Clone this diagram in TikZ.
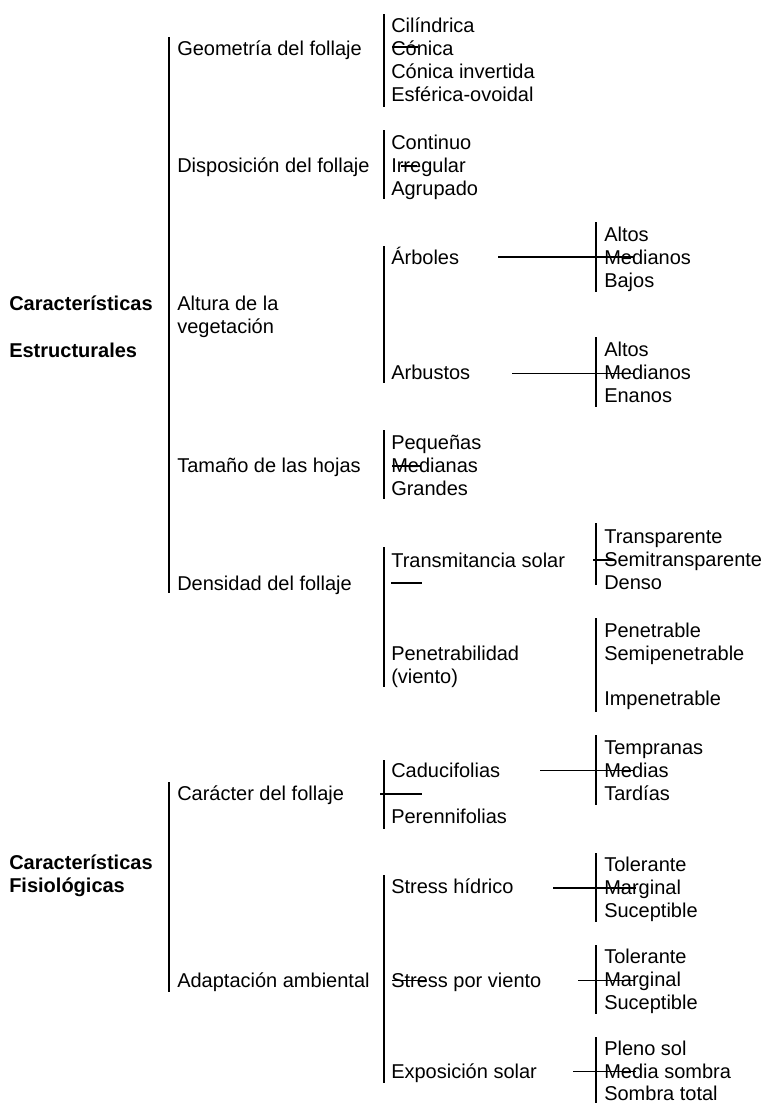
\documentclass[tikz,border=0pt]{standalone}
\usepackage{fontspec}
\setmainfont{Liberation Sans}
\tikzset{
  txt/.style={anchor=base west, inner sep=0pt, font=\fontsize{15}{18}\selectfont},
  hdr/.style={txt, font=\fontsize{15}{18}\selectfont\bfseries},
  brace/.style={line width=1.6pt},
  tick/.style={line width=1.25pt}
}
\begin{document}
\begin{tikzpicture}[x=0.75pt,y=0.75pt,yscale=-1,xscale=1]
\path[use as bounding box] (0,0) rectangle (764,1103);

%Straight Lines: main bars
\draw [brace] (169,37) -- (169,593) ;
\draw [brace] (169,782) -- (169,992) ;
%Straight Lines: second level bars
\draw [brace] (384,14) -- (384,107) ;
\draw [brace] (384,130) -- (384,199) ;
\draw [brace] (384,246) -- (384,383) ;
\draw [brace] (384,430) -- (384,499) ;
\draw [brace] (384,547) -- (384,687) ;
\draw [brace] (384,760) -- (384,829) ;
\draw [brace] (384,875) -- (384,1083) ;
%Straight Lines: third level bars
\draw [brace] (596,222) -- (596,292) ;
\draw [brace] (596,337) -- (596,407) ;
\draw [brace] (596,523) -- (596,585) ;
\draw [brace] (596,618) -- (596,712) ;
\draw [brace] (596,735) -- (596,805) ;
\draw [brace] (596,853) -- (596,922) ;
\draw [brace] (596,945) -- (596,1014) ;
\draw [brace] (596,1037) -- (596,1103) ;

%Straight Lines: horizontal strokes
\draw [tick] (392,47) -- (418,47) ;
\draw [tick] (401,166) -- (417,166) ;
\draw [tick] (498,257) -- (634,257) ;
\draw [tick] (512,373.5) -- (634,373.5) ;
\draw [tick] (392,466) -- (421,466) ;
\draw [tick] (391,583) -- (422,583) ;
\draw [tick] (593,560) -- (615,560) ;
\draw [tick] (380,794) -- (422,794) ;
\draw [tick] (540,770.5) -- (634,770.5) ;
\draw [tick] (553,888) -- (636,888) ;
\draw [tick] (392,980.5) -- (426,980.5) ;
\draw [tick] (578,980.5) -- (634,980.5) ;
\draw [tick] (573,1071.5) -- (636,1071.5) ;

% Text Node: headings
\draw (9,310) node [hdr] (estr1) {Características};
\draw (9,357) node [hdr] (estr2) {Estructurales};
\draw (9,869.5) node [hdr] (fisio1) {Características};
\draw (9,892.5) node [hdr] (fisio2) {Fisiológicas};

% Text Node: second level
\draw (177,55.5) node [txt] (geom) {Geometría del follaje};
\draw (177,172) node [txt] (disp) {Disposición del follaje};
\draw (177,310) node [txt] (alt1) {Altura de la};
\draw (177,333) node [txt] (alt2) {vegetación};
\draw (177,472) node [txt] (tam) {Tamaño de las hojas};
\draw (177,590) node [txt] (dens) {Densidad del follaje};
\draw (177,800) node [txt] (carac) {Carácter del follaje};
\draw (177,987) node [txt] (adapt) {Adaptación ambiental};

% Text Node: third level
\draw (391,32) node [txt] (cil) {Cilíndrica};
\draw (391,55) node [txt] (con) {Cónica};
\draw (391,78) node [txt] (coninv) {Cónica invertida};
\draw (391,101) node [txt] (esf) {Esférica-ovoidal};
\draw (391,149) node [txt] (cont) {Continuo};
\draw (391,172) node [txt] (irr) {Irregular};
\draw (391,195) node [txt] (agr) {Agrupado};
\draw (391,264) node [txt] (arb) {Árboles};
\draw (391,379.5) node [txt] (arbu) {Arbustos};
\draw (391,449) node [txt] (peq) {Pequeñas};
\draw (391,472) node [txt] (med) {Medianas};
\draw (391,495) node [txt] (gra) {Grandes};
\draw (391,567) node [txt] (trans) {Transmitancia solar};
\draw (391,660) node [txt] (pen1) {Penetrabilidad};
\draw (391,683) node [txt] (pen2) {(viento)};
\draw (391,777) node [txt] (cadu) {Caducifolias};
\draw (391,823) node [txt] (pere) {Perennifolias};
\draw (391,893) node [txt] (shid) {Stress hídrico};
\draw (391,987) node [txt] (svie) {Stress por viento};
\draw (391,1078) node [txt] (expo) {Exposición solar};

% Text Node: fourth level
\draw (604,241.5) node [txt] (arbalt) {Altos};
\draw (604,264) node [txt] (arbmed) {Medianos};
\draw (604,287) node [txt] (arbbaj) {Bajos};
\draw (604,356) node [txt] (arualt) {Altos};
\draw (604,379.5) node [txt] (arumed) {Medianos};
\draw (604,402) node [txt] (aruena) {Enanos};
\draw (604,543.5) node [txt] (trtra) {Transparente};
\draw (604,566.5) node [txt] (trsem) {Semitransparente};
\draw (604,589.5) node [txt] (trden) {Denso};
\draw (604,637) node [txt] (pepen) {Penetrable};
\draw (604,660) node [txt] (pesem) {Semipenetrable};
\draw (604,705) node [txt] (peimp) {Impenetrable};
\draw (604,754) node [txt] (catem) {Tempranas};
\draw (604,777) node [txt] (camed) {Medias};
\draw (604,800) node [txt] (catar) {Tardías};
\draw (604,871) node [txt] (shtol) {Tolerante};
\draw (604,894) node [txt] (shmar) {Marginal};
\draw (604,917) node [txt] (shsuc) {Suceptible};
\draw (604,963) node [txt] (svtol) {Tolerante};
\draw (604,986) node [txt] (svmar) {Marginal};
\draw (604,1009) node [txt] (svsuc) {Suceptible};
\draw (604,1055.5) node [txt] (exple) {Pleno sol};
\draw (604,1078) node [txt] (expme) {Media sombra};
\draw (604,1100.5) node [txt] (expso) {Sombra total};

\end{tikzpicture}
\end{document}
